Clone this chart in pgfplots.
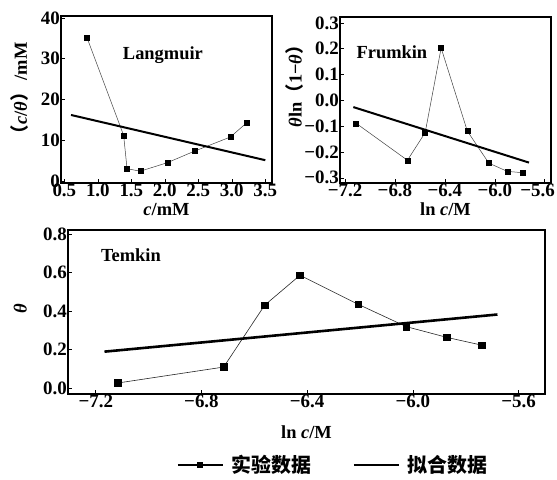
\documentclass[border=0pt]{standalone}
\usepackage{pgfplots}
\pgfplotsset{compat=1.18}
\usepackage{fontspec}
\setmainfont{Liberation Serif}
\newfontfamily\cjk{Noto Sans CJK SC}
\begin{document}
\begin{tikzpicture}
\useasboundingbox (0bp,0bp) rectangle (557bp,480bp);
\pgfplotsset{
  every axis/.append style={
    scale only axis, axis line style={line width=1.6bp}, tick align=inside,
    xtick pos=bottom, ytick pos=left, major tick length=4bp,
    tick style={line width=0.6bp, black},
    tick label style={font=\fontsize{19}{21}\selectfont\bfseries, inner sep=1bp},
    label style={font=\fontsize{18.5}{20}\selectfont\bfseries},
    /pgf/number format/assume math mode=true,
  },
  exp/.style={line width=0.5bp, color=black!75, mark=square*, mark size=2.5bp, mark options={fill=black, draw=black}},
  fit/.style={line width=2bp, black, no marks},
}
% Langmuir
\begin{axis}[at={(61bp,297bp)}, anchor=south west, width=211bp, height=167bp,
  xmin=0.45, xmax=3.6, ymin=-0.5, ymax=40.5,
  xtick={0.5,1.0,1.5,2.0,2.5,3.0,3.5},
  xticklabels={0.5,1.0,1.5,2.0,2.5,3.0,3.5},
  ytick={0,10,20,30,40}, yticklabels={0,10,20,30,40},
  xlabel={\textit{c}/mM},
  xlabel style={at={(axis description cs:0.5,-0.16)}, anchor=center},
  ylabel={{\cjk （}\textit{c}/\textit{θ}{\cjk ）}\,/mM},
  ylabel style={at={(axis description cs:-0.195,0.54)}, anchor=center},
]
\addplot[exp] coordinates {(0.84,35.1) (1.385,11.2) (1.436,3.0) (1.634,2.4) (2.04,4.5) (2.44,7.3) (2.98,10.8) (3.23,14.4)};
\addplot[fit] coordinates {(0.6,16.2) (3.5,5.1)};
\node[font=\fontsize{18.5}{20}\selectfont\bfseries] at (axis description cs:0.483,0.766) {Langmuir};
\end{axis}
% Frumkin
\begin{axis}[at={(340bp,297bp)}, anchor=south west, width=211bp, height=166bp,
  xmin=-7.24, xmax=-5.55, ymin=-0.32, ymax=0.323,
  xtick={-7.2,-6.8,-6.4,-6.0,-5.6},
  xticklabels={−7.2,−6.8,−6.4,−6.0,\makebox[20bp][r]{−5.6}},
  ytick={-0.3,-0.2,-0.1,0,0.1,0.2,0.3},
  yticklabels={−0.3,−0.2,−0.1,0.0,0.1,0.2,0.3},
  xlabel={ln \textit{c}/M},
  xlabel style={at={(axis description cs:0.5,-0.16)}, anchor=center},
  ylabel={\textit{θ}ln{\cjk （}1−\textit{θ}{\cjk ）}},
  ylabel style={at={(axis description cs:-0.215,0.61)}, anchor=center},
]
\addplot[exp] coordinates {(-7.11,-0.089) (-6.70,-0.232) (-6.558,-0.125) (-6.43,0.203) (-6.22,-0.119) (-6.048,-0.243) (-5.90,-0.275) (-5.78,-0.280)};
\addplot[fit] coordinates {(-7.133,-0.026) (-5.726,-0.241)};
\node[font=\fontsize{18.5}{20}\selectfont\bfseries] at (axis description cs:0.246,0.789) {Frumkin};
\end{axis}
% Temkin
\begin{axis}[at={(68bp,86bp)}, anchor=south west, width=477bp, height=164bp,
  xmin=-7.305, xmax=-5.5, ymin=-0.031, ymax=0.821,
  xtick={-7.2,-6.8,-6.4,-6.0,-5.6},
  xticklabels={−7.2,−6.8,−6.4,−6.0,−5.6},
  ytick={0,0.2,0.4,0.6,0.8},
  yticklabels={0.0,0.2,0.4,0.6,0.8},
  xlabel={ln \textit{c}/M},
  xlabel style={at={(axis description cs:0.5,-0.235)}, anchor=center},
  ylabel={\textit{θ}},
  ylabel style={at={(axis description cs:-0.10,0.52)}, anchor=center},
  legend style={at={(axis description cs:0.556,-0.433)}, anchor=center, draw=none, fill=none,
    legend columns=2, font=\fontsize{20}{22}\selectfont\cjk\bfseries,
    /tikz/every odd column/.append style={column sep=6bp},
    /tikz/every even column/.append style={column sep=40bp}},
  legend image code/.code={\draw[mark repeat=2,mark phase=2,#1] plot coordinates {(0bp,0bp) (22bp,0bp) (45bp,0bp)};},
]
\addplot[exp, line width=0.6bp, color=black!85, mark size=3.3bp, forget plot] coordinates {(-7.117,0.026) (-6.716,0.109) (-6.561,0.430) (-6.427,0.586) (-6.207,0.435) (-6.025,0.319) (-5.871,0.263) (-5.740,0.223)};
\addplot[fit, line width=2.6bp, forget plot] coordinates {(-7.167,0.189) (-5.68,0.382)};
\addlegendimage{line width=1.2bp, black, mark=square*, mark size=2.8bp}
\addlegendentry{实验数据}
\addlegendimage{line width=1.2bp, black}
\addlegendentry{拟合数据}
\node[font=\fontsize{18.5}{20}\selectfont\bfseries] at (axis description cs:0.132,0.848) {Temkin};
\end{axis}
\end{tikzpicture}
\end{document}
